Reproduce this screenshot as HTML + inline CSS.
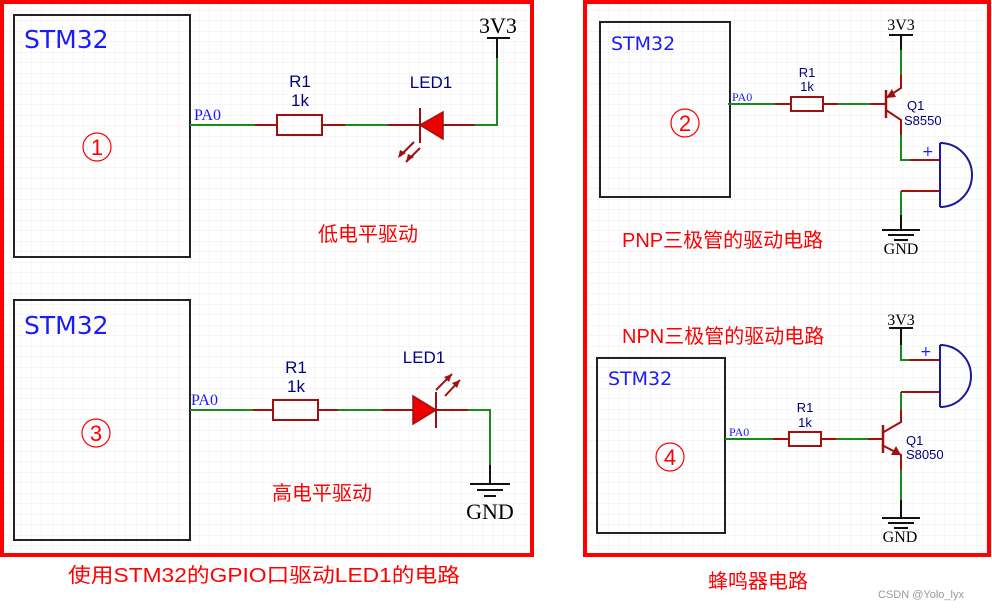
<!DOCTYPE html>
<html><head><meta charset="utf-8"><style>
html,body{margin:0;padding:0;background:#fff;width:992px;height:609px;overflow:hidden}
svg{display:block}
.s{font-family:"DejaVu Sans","Liberation Sans",sans-serif;fill:#1a1aff}
.l{font-family:"Liberation Sans",sans-serif;fill:#000080;font-size:17px}
.ls{font-family:"Liberation Sans",sans-serif;fill:#000080;font-size:13px}
.p{font-family:"Liberation Serif",serif;fill:#1a1aff}
.k{font-family:"Liberation Serif",serif;fill:#000}
.c{font-family:"Liberation Sans","Noto Sans CJK SC",sans-serif;fill:#f00}
.n{font-family:"Liberation Sans",sans-serif;fill:#f00;font-size:22px}
</style></head><body>
<svg width="992" height="609" viewBox="0 0 992 609" xmlns="http://www.w3.org/2000/svg">
<defs>
<pattern id="g" width="10.5" height="10.5" patternUnits="userSpaceOnUse">
<path d="M10.5 0V10.5H0" fill="none" stroke="#ececec" stroke-width="1"/>
</pattern>
</defs>
<rect x="2" y="2" width="530" height="553" fill="url(#g)"/>
<rect x="585" y="2" width="404" height="553" fill="url(#g)"/>
<rect x="2" y="2" width="530" height="553" fill="none" stroke="#f00" stroke-width="4"/>
<rect x="585" y="2" width="404" height="553" fill="none" stroke="#f00" stroke-width="4"/>

<g fill="none" stroke-width="2">
<rect x="14" y="15" width="176" height="242" stroke="#222"/>
<path d="M190 125H255M345 125H388M475 125H497V58" stroke="#1a8a1a"/>
<path d="M255 125H277M322 125H345M388 125H420M443 125H475" stroke="#a01010"/>
<rect x="277" y="115" width="45" height="20" stroke="#a01010"/>
<path d="M420 108V143" stroke="#a01010"/>
<path d="M497 58V38M487 38H510" stroke="#111"/>
<path d="M414 142L400 156" stroke="#a01010"/>
<path d="M420 148L406 162" stroke="#a01010"/>
<rect x="14" y="300" width="176" height="240" stroke="#222"/>
<path d="M190 410H253M338 410H382M468 410H490V465" stroke="#1a8a1a"/>
<path d="M253 410H273M318 410H338M382 410H413M435 410H468" stroke="#a01010"/>
<rect x="273" y="400" width="45" height="20" stroke="#a01010"/>
<path d="M436 392V428" stroke="#a01010"/>
<path d="M436 390L452 374M445 396L460 380" stroke="#a01010"/>
<path d="M490 465V484M470 484H510M477 490H503M484 496H496" stroke="#111"/>
<rect x="600" y="22" width="130" height="175" stroke="#222"/>
<path d="M728 104H775M838 104H870M901 50V75M901 135V160H910M901 191V215" stroke="#1a8a1a"/>
<path d="M775 104H791M823 104H838M870 104H886M901 75V88L886 98M886 110L901 120V135M910 160H940M901 191H940" stroke="#a01010"/>
<rect x="791" y="97" width="32" height="14" stroke="#a01010"/>
<path d="M886 90V118" stroke="#a01010" stroke-width="2.5"/>
<path d="M901 50V35M889 35H913" stroke="#111"/>
<path d="M901 215V230M882 230H920M888 235H914M894 240H908" stroke="#111"/>
<path d="M940 143V207M940 143A32 32 0 0 1 940 207" stroke="#1a1a9a"/>
<rect x="597" y="358" width="128" height="175" stroke="#222"/>
<path d="M725 439H773M836 439H868M901 345V360H909M901 392V410M901 470V500" stroke="#1a8a1a"/>
<path d="M773 439H789M821 439H836M868 439H882M909 360H940M901 392H940M901 410V422L882 433M882 445L901 455V470" stroke="#a01010"/>
<rect x="789" y="432" width="32" height="14" stroke="#a01010"/>
<path d="M883 425V453" stroke="#a01010" stroke-width="2.5"/>
<path d="M901 345V328M889 328H913" stroke="#111"/>
<path d="M901 500V518M882 518H920M888 523H914M894 528H908" stroke="#111"/>
<path d="M940 345V407M940 345A31 31 0 0 1 940 407" stroke="#1a1a9a"/>
<g stroke="#f00" stroke-width="1.2">
<circle cx="97" cy="147" r="14"/>
<circle cx="96" cy="433" r="14"/>
<circle cx="685" cy="123" r="14"/>
<circle cx="670" cy="457" r="14"/>
</g>
</g>
<polygon points="443,112 443,139 420,125" fill="#e00" stroke="#a01010" stroke-width="1.5"/>
<polygon points="413,396 413,424 436,410" fill="#e00" stroke="#a01010" stroke-width="1.5"/>
<polygon points="398,158 400,150 406,153" fill="#a01010"/>
<polygon points="406,162 408,154 414,157" fill="#a01010"/>
<polygon points="452,374 444,377 449,382" fill="#a01010"/>
<polygon points="460,380 452,383 457,388" fill="#a01010"/>
<polygon points="886,98 892,89 896,97" fill="#a01010"/>
<polygon points="901,455 891,455 896,446" fill="#a01010"/>

<text class="s" x="24" y="48" font-size="25">STM32</text>
<text class="s" x="24" y="334" font-size="25">STM32</text>
<text class="s" x="611" y="50" font-size="19">STM32</text>
<text class="s" x="608" y="385" font-size="19">STM32</text>
<text class="p" x="194" y="120" font-size="16">PA0</text>
<text class="p" x="191" y="405" font-size="16">PA0</text>
<text class="p" x="732" y="101" font-size="12">PA0</text>
<text class="p" x="729" y="436" font-size="12">PA0</text>
<text class="l" x="300" y="87" text-anchor="middle">R1</text>
<text class="l" x="300" y="106" text-anchor="middle">1k</text>
<text class="l" x="431" y="88" text-anchor="middle">LED1</text>
<text class="l" x="296" y="373" text-anchor="middle">R1</text>
<text class="l" x="296" y="392" text-anchor="middle">1k</text>
<text class="l" x="424" y="363" text-anchor="middle">LED1</text>
<text class="ls" x="807" y="77" text-anchor="middle">R1</text>
<text class="ls" x="807" y="91" text-anchor="middle">1k</text>
<text class="ls" x="805" y="412" text-anchor="middle">R1</text>
<text class="ls" x="805" y="427" text-anchor="middle">1k</text>
<text class="ls" x="907" y="110">Q1</text>
<text class="ls" x="904" y="125">S8550</text>
<text class="ls" x="906" y="445">Q1</text>
<text class="ls" x="906" y="459">S8050</text>
<text class="s" x="922" y="156" font-size="14">+</text>
<text class="s" x="920" y="356" font-size="14">+</text>
<text class="k" x="498" y="33" font-size="22" text-anchor="middle">3V3</text>
<text class="k" x="490" y="519" font-size="22" text-anchor="middle">GND</text>
<text class="k" x="901" y="30" font-size="16" text-anchor="middle">3V3</text>
<text class="k" x="901" y="254" font-size="16" text-anchor="middle">GND</text>
<text class="k" x="901" y="325" font-size="16" text-anchor="middle">3V3</text>
<text class="k" x="900" y="542" font-size="16" text-anchor="middle">GND</text>
<text class="n" x="97" y="155" text-anchor="middle">1</text>
<text class="n" x="96" y="441" text-anchor="middle">3</text>
<text class="n" x="685" y="131" text-anchor="middle">2</text>
<text class="n" x="670" y="465" text-anchor="middle">4</text>
<text class="c" x="318" y="241" font-size="20">低电平驱动</text>
<text class="c" x="272" y="500" font-size="20">高电平驱动</text>
<text class="c" x="622" y="247" font-size="20">PNP三极管的驱动电路</text>
<text class="c" x="622" y="343" font-size="20">NPN三极管的驱动电路</text>
<text class="c" x="68" y="582" font-size="20" textLength="392" lengthAdjust="spacingAndGlyphs">使用STM32的GPIO口驱动LED1的电路</text>
<text class="c" x="708" y="588" font-size="20">蜂鸣器电路</text>
<text x="878" y="598" font-size="11" fill="#999" font-family="Liberation Sans,sans-serif">CSDN @Yolo_lyx</text>
</svg>
</body></html>
